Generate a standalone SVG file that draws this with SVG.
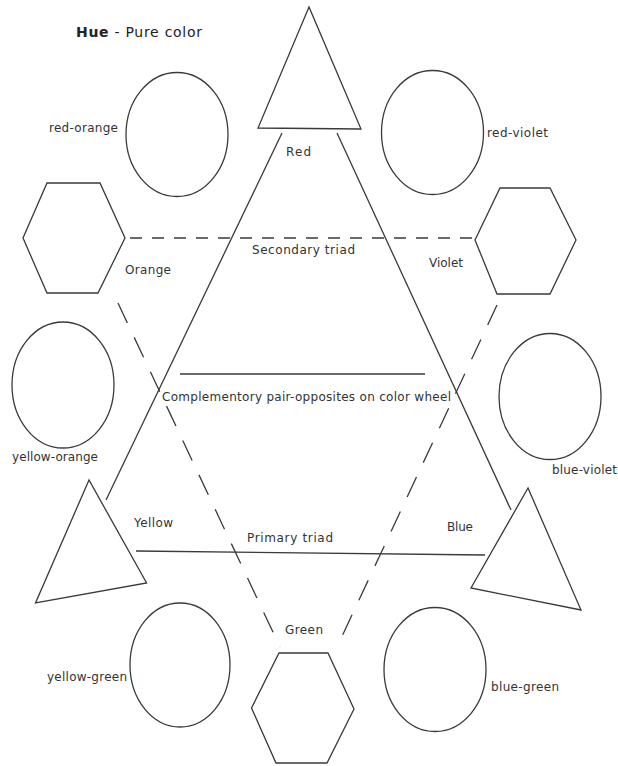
<svg xmlns="http://www.w3.org/2000/svg" width="618" height="766" viewBox="0 0 618 766">
<style>
.s{fill:none;stroke:#3a3a3a;stroke-width:1.3}
.d1{fill:none;stroke:#3a3a3a;stroke-width:1.3;stroke-dasharray:12 10}
.d2{fill:none;stroke:#3a3a3a;stroke-width:1.3;stroke-dasharray:22 16}
.t{font-family:"DejaVu Sans","Liberation Sans",sans-serif;font-size:12px;fill:#333}
.h{font-family:"DejaVu Sans","Liberation Sans",sans-serif;font-size:14px;fill:#222}
</style>
<rect width="618" height="766" fill="#fff"/>
<g id="title"><text class="h" x="76" y="37" textLength="126"><tspan font-weight="bold">Hue</tspan> - Pure color</text></g>
<g id="connectors">
<line class="s" x1="282" y1="133" x2="106" y2="500"/>
<line class="s" x1="337" y1="133" x2="511" y2="510"/>
<line class="s" x1="136" y1="551" x2="485" y2="555"/>
<line class="s" x1="180" y1="374" x2="425" y2="374"/>
<line class="d1" x1="130" y1="238" x2="472" y2="238"/>
<line class="d2" x1="118" y1="303" x2="280" y2="647"/>
<line class="d2" x1="497" y1="305" x2="337" y2="647"/>
</g>
<g id="red"><polygon class="s" points="309,7 258,128 361,129"/><text class="t" x="286" y="156" textLength="25">Red</text></g>
<g id="red-orange"><ellipse class="s" cx="177" cy="134.5" rx="51" ry="62"/><text class="t" x="49" y="132" textLength="69">red-orange</text></g>
<g id="red-violet"><ellipse class="s" cx="432.5" cy="132.5" rx="51" ry="62"/><text class="t" x="487" y="137" textLength="61">red-violet</text></g>
<g id="orange"><polygon class="s" points="47,183 100,183 125,238 98,293 47,293 23,238"/><text class="t" x="125" y="274" textLength="46">Orange</text></g>
<g id="violet"><polygon class="s" points="500,188 550,188 576,240 550,294 497,294 475,240"/><text class="t" x="429" y="267" textLength="34">Violet</text></g>
<g id="secondary-label"><text class="t" x="252" y="254" textLength="103">Secondary triad</text></g>
<g id="complementary-label"><text class="t" x="162" y="401" textLength="289">Complementory pair-opposites on color wheel</text></g>
<g id="yellow-orange"><ellipse class="s" cx="63" cy="385" rx="51" ry="63"/><text class="t" x="12" y="461" textLength="86">yellow-orange</text></g>
<g id="blue-violet"><ellipse class="s" cx="550" cy="396.5" rx="51" ry="63"/><text class="t" x="552" y="474" textLength="65">blue-violet</text></g>
<g id="yellow"><polygon class="s" points="89,480 35.5,603 146.6,583"/><text class="t" x="134" y="527" textLength="39">Yellow</text></g>
<g id="primary-label"><text class="t" x="247" y="542" textLength="86">Primary triad</text></g>
<g id="blue"><polygon class="s" points="528,488 471,588 581,610"/><text class="t" x="447" y="531" textLength="26">Blue</text></g>
<g id="yellow-green"><ellipse class="s" cx="180" cy="665" rx="50" ry="62"/><text class="t" x="47" y="681" textLength="80">yellow-green</text></g>
<g id="green"><polygon class="s" points="279,653 328,653 354,709 327,763 276,763 251.5,708"/><text class="t" x="285" y="634" textLength="38">Green</text></g>
<g id="blue-green"><ellipse class="s" cx="435" cy="669.5" rx="51" ry="62"/><text class="t" x="491" y="691" textLength="68">blue-green</text></g>
</svg>
